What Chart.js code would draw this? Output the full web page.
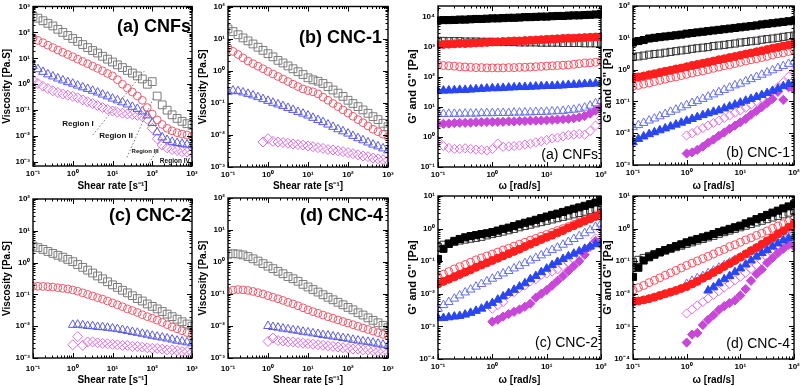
<!DOCTYPE html>
<html>
<head>
<meta charset="utf-8">
<script src="https://cdn.jsdelivr.net/npm/chart.js@4.4.0/dist/chart.umd.min.js"></script>
<style>
  body { margin: 0; background: #fff; }
  #wrap { position: relative; width: 800px; height: 386px; overflow: hidden; background: #fff; }
  #wrap canvas { position: absolute; }
</style>
</head>
<body>
<div id="wrap">
  <canvas id="visA"></canvas>
  <canvas id="visB"></canvas>
  <canvas id="visC"></canvas>
  <canvas id="visD"></canvas>
  <canvas id="gA"></canvas>
  <canvas id="gB"></canvas>
  <canvas id="gC"></canvas>
  <canvas id="gD"></canvas>
</div>
<script>
// x values
const shearRate = [0.1, 0.133, 0.178, 0.237, 0.316, 0.422, 0.562, 0.75, 1, 1.33, 1.78, 2.37, 3.16, 4.22, 5.62, 7.5, 10, 13.3, 17.8, 23.7, 31.6, 42.2, 56.2, 75, 100, 133, 178, 237, 316, 422, 562, 750, 1000];
const omega = [0.1, 0.126, 0.158, 0.2, 0.251, 0.316, 0.398, 0.501, 0.631, 0.794, 1, 1.26, 1.58, 2, 2.51, 3.16, 3.98, 5.01, 6.31, 7.94, 10, 12.6, 15.8, 20, 25.1, 31.6, 39.8, 50.1, 63.1, 79.4, 100];

// tick labels
const shearTicks = [0.1, 1, 10, 100, 1000];
const omegaTicks = [0.1, 1, 10, 100];
const viscTicks = [0.001, 0.01, 0.1, 1, 10, 100, 1000];
const gTicksA = [0.1, 1, 10, 100, 1000, 10000];
const gTicksB = [0.001, 0.01, 0.1, 1, 10, 100];
const gTicksCD = [0.0001, 0.001, 0.01, 0.1, 1, 10];

// viscosity, (a) CNFs
const visA_sq = [417, 355, 282, 224, 178, 132, 100, 76, 58, 45, 34, 26, 20, 16, 12, 9.3, 7.2, 5.6, 4.4, 3.4, 2.7, 2.1, 1.6, 1.0, 1.26, 0.35, 0.16, 0.1, 0.066, 0.048, 0.037, 0.03, 0.026];
const visA_ci = [60, 49, 40, 32, 26, 21, 17, 14, 11.5, 9.3, 7.6, 6.2, 5.0, 4.1, 3.3, 2.6, 2.1, 1.5, 1.0, 0.71, 0.5, 0.35, 0.24, 0.126, 0.071, 0.042, 0.028, 0.02, 0.016, 0.0135, 0.012, 0.011, 0.01];
const visA_tr = [5.0, 3.8, 3.0, 2.4, 2.0, 1.66, 1.41, 1.2, 1.05, 0.89, 0.76, 0.66, 0.56, 0.48, 0.4, 0.34, 0.28, 0.24, 0.2, 0.166, 0.135, 0.112, 0.089, 0.063, 0.032, 0.014, 0.0089, 0.0071, 0.006, 0.0054, 0.005, 0.0047, 0.0044];
const visA_di = [1.41, 1.07, 0.83, 0.68, 0.56, 0.48, 0.42, 0.38, 0.34, 0.3, 0.25, 0.21, 0.18, 0.15, 0.126, 0.107, 0.093, 0.083, 0.076, 0.071, 0.068, 0.063, 0.056, 0.045, 0.02, 0.0079, 0.0045, 0.0035, 0.003, 0.0028, 0.0025, 0.0024, 0.0023];

// viscosity, (b) CNC-1
const visB_sq = [20, 16.6, 13.2, 10.5, 8.5, 6.8, 5.4, 4.3, 3.4, 2.7, 2.1, 1.74, 1.41, 1.15, 0.93, 0.76, 0.6, 0.52, 0.47, 0.4, 0.32, 0.25, 0.2, 0.158, 0.12, 0.095, 0.076, 0.06, 0.047, 0.037, 0.03, 0.023, 0.018];
const visB_ci = [5.2, 4.0, 3.2, 2.5, 2.0, 1.66, 1.38, 1.15, 0.95, 0.79, 0.66, 0.55, 0.46, 0.38, 0.32, 0.27, 0.24, 0.22, 0.19, 0.15, 0.12, 0.095, 0.076, 0.06, 0.048, 0.038, 0.03, 0.024, 0.019, 0.015, 0.0126, 0.0105, 0.0087];
const visB_tr = [0.22, 0.24, 0.23, 0.21, 0.19, 0.17, 0.15, 0.13, 0.115, 0.1, 0.089, 0.079, 0.069, 0.06, 0.052, 0.046, 0.04, 0.034, 0.029, 0.025, 0.021, 0.0178, 0.015, 0.0129, 0.011, 0.0093, 0.0079, 0.0068, 0.0058, 0.005, 0.0044, 0.0038, 0.0033];
const visB_di = [0.006, 0.0076, 0.0063, 0.006, 0.0058, 0.0055, 0.0052, 0.005, 0.0048, 0.0045, 0.0043, 0.004, 0.0038, 0.0035, 0.0034, 0.0032, 0.003, 0.0028, 0.0026, 0.0024, 0.0022, 0.0021, 0.0019, 0.0018, 0.0017, 0.0016];

// viscosity, (c) CNC-2
const visC_sq = [3.3, 2.95, 2.6, 2.24, 1.95, 1.7, 1.48, 1.26, 1.07, 0.87, 0.71, 0.58, 0.47, 0.38, 0.31, 0.25, 0.2, 0.166, 0.135, 0.112, 0.091, 0.074, 0.062, 0.05, 0.042, 0.035, 0.029, 0.024, 0.02, 0.0166, 0.0138, 0.0117, 0.01];
const visC_ci = [0.18, 0.18, 0.178, 0.174, 0.17, 0.162, 0.155, 0.148, 0.138, 0.126, 0.112, 0.1, 0.089, 0.079, 0.071, 0.062, 0.054, 0.047, 0.041, 0.035, 0.031, 0.027, 0.023, 0.02, 0.0178, 0.0155, 0.0132, 0.0112, 0.0095, 0.0083, 0.0072, 0.0063, 0.0054];
const visC_tr = [0.011, 0.0112, 0.0107, 0.0102, 0.01, 0.0095, 0.0093, 0.0089, 0.0085, 0.0081, 0.0076, 0.0071, 0.0066, 0.0062, 0.0058, 0.0054, 0.005, 0.0047, 0.0044, 0.0041, 0.0038, 0.0035, 0.0033, 0.0031, 0.0029];
const visC_di = [0.0026, 0.0047, 0.0025, 0.0032, 0.0032, 0.003, 0.0029, 0.0028, 0.0027, 0.0026, 0.0025, 0.0025, 0.0023, 0.0023, 0.0022, 0.0021, 0.002, 0.002, 0.0019, 0.0018, 0.0018, 0.0017, 0.0016, 0.0016, 0.0015];

// viscosity, (d) CNC-4
const visD_sq = [1.74, 1.82, 1.78, 1.66, 1.48, 1.26, 1.07, 0.89, 0.74, 0.62, 0.51, 0.43, 0.35, 0.3, 0.25, 0.2, 0.166, 0.138, 0.115, 0.095, 0.079, 0.066, 0.055, 0.046, 0.038, 0.032, 0.026, 0.022, 0.018, 0.015, 0.0126, 0.0105, 0.0089];
const visD_ci = [0.12, 0.132, 0.138, 0.135, 0.129, 0.12, 0.11, 0.1, 0.089, 0.079, 0.071, 0.063, 0.055, 0.049, 0.043, 0.037, 0.032, 0.028, 0.025, 0.022, 0.0195, 0.0174, 0.0155, 0.0138, 0.0123, 0.011, 0.0098, 0.0087, 0.0078, 0.0069, 0.0062, 0.0055, 0.005];
const visD_tr = [0.01, 0.0093, 0.0089, 0.0083, 0.0079, 0.0074, 0.0071, 0.0066, 0.0063, 0.0059, 0.0056, 0.0052, 0.005, 0.0047, 0.0045, 0.0042, 0.004, 0.0037, 0.0035, 0.0033, 0.0032, 0.003, 0.0028, 0.0026, 0.0024];
const visD_di = [0.0033, 0.0042, 0.0035, 0.0034, 0.0032, 0.0032, 0.003, 0.0029, 0.0028, 0.0027, 0.0026, 0.0025, 0.0024, 0.0023, 0.0022, 0.0021, 0.002, 0.0019, 0.0019, 0.0018, 0.0018, 0.0017, 0.0016, 0.0016, 0.0015];

// G' (…1, filled) and G'' (…2, open), (a) CNFs
const gA_sq1 = [7600, 7800, 7800, 7900, 8100, 8100, 8300, 8500, 8500, 8700, 8900, 8900, 9100, 9300, 9300, 9500, 9800, 9800, 10000, 10200, 10200, 10500, 10700, 10700, 11000, 11200, 11200, 11500, 11700, 12000, 12600];
const gA_sq2 = [1580, 1580, 1550, 1550, 1550, 1510, 1510, 1510, 1480, 1480, 1480, 1450, 1450, 1450, 1450, 1410, 1410, 1410, 1410, 1380, 1380, 1380, 1380, 1350, 1350, 1350, 1350, 1320, 1320, 1320, 1320];
const gA_ci1 = [1170, 1200, 1230, 1260, 1290, 1290, 1320, 1350, 1380, 1410, 1450, 1480, 1510, 1550, 1580, 1580, 1620, 1660, 1700, 1740, 1780, 1820, 1860, 1910, 1950, 1950, 2000, 2040, 2090, 2140, 2190];
const gA_ci2 = [251, 240, 234, 229, 219, 214, 209, 204, 204, 200, 200, 200, 200, 204, 204, 209, 209, 214, 219, 224, 229, 234, 240, 245, 251, 263, 275, 288, 295, 309, 331];
const gA_tr1 = [34, 35, 35.5, 36, 37, 37, 38, 39, 40, 41, 42, 42, 43, 44, 45, 46, 46, 47, 48, 49, 50, 50, 51, 52, 54, 55, 56, 58, 59, 60, 63];
const gA_tr2 = [5.8, 5.8, 5.9, 5.9, 5.9, 6.0, 6.0, 6.0, 6.2, 6.2, 6.2, 6.3, 6.3, 6.3, 6.5, 6.5, 6.6, 6.6, 6.8, 6.8, 6.9, 7.1, 7.2, 7.4, 7.8, 8.1, 8.7, 9.5, 11, 13.2, 15.8];
const gA_di1 = [2.7, 2.75, 2.8, 2.9, 2.95, 2.95, 3.0, 3.1, 3.1, 3.16, 3.16, 3.2, 3.2, 3.3, 3.3, 3.4, 3.4, 3.5, 3.5, 3.55, 3.6, 3.7, 3.8, 3.9, 4.0, 4.2, 4.5, 5.0, 6.0, 7.6, 9.5];
const gA_di2 = [0.76, 0.5, 0.43, 0.4, 0.4, 0.42, 0.4, 0.38, 0.37, 0.355, 0.4, 0.6, 0.47, 0.48, 0.5, 0.52, 0.56, 0.6, 0.66, 0.72, 0.79, 0.89, 0.95, 1.05, 1.15, 1.2, 1.26, 1.2, 1.58, 2.4, 4.2];

// (b) CNC-1
const gB_sq1 = [7.1, 7.9, 8.5, 9.5, 10, 10.5, 11, 11.5, 12, 12.6, 13.5, 14.1, 14.8, 15.5, 16.2, 17, 17.8, 18.6, 19.5, 20.4, 21.4, 22.4, 23.4, 24.5, 26.3, 27.5, 28.8, 30.2, 31.6, 33.1, 34.7];
const gB_sq2 = [2.5, 2.6, 2.75, 2.95, 3.1, 3.2, 3.4, 3.6, 3.8, 4.0, 4.2, 4.5, 4.7, 4.9, 5.1, 5.5, 5.75, 6.0, 6.3, 6.6, 7.1, 7.4, 7.8, 8.1, 8.7, 9.1, 9.5, 10, 10.7, 11.2, 11.7];
const gB_ci1 = [0.54, 0.59, 0.63, 0.69, 0.74, 0.81, 0.89, 0.95, 1.05, 1.12, 1.23, 1.35, 1.45, 1.58, 1.7, 1.86, 2.04, 2.19, 2.4, 2.57, 2.82, 3.09, 3.31, 3.63, 3.89, 4.27, 4.68, 5.0, 5.5, 5.9, 6.5];
const gB_ci2 = [0.3, 0.32, 0.35, 0.38, 0.42, 0.46, 0.5, 0.55, 0.59, 0.65, 0.71, 0.78, 0.85, 0.91, 1.0, 1.1, 1.2, 1.32, 1.41, 1.55, 1.7, 1.86, 2.04, 2.19, 2.4, 2.63, 2.88, 3.16, 3.39, 3.72, 4.07];
const gB_tr1 = [0.0052, 0.0066, 0.0079, 0.0093, 0.0107, 0.0123, 0.0141, 0.0162, 0.0186, 0.0214, 0.0245, 0.028, 0.032, 0.037, 0.042, 0.047, 0.052, 0.06, 0.069, 0.079, 0.091, 0.105, 0.12, 0.138, 0.158, 0.182, 0.214, 0.25, 0.3, 0.35, 0.38];
const gB_tr2 = [0.0155, 0.018, 0.021, 0.025, 0.029, 0.034, 0.04, 0.047, 0.055, 0.065, 0.076, 0.089, 0.102, 0.12, 0.141, 0.166, 0.195, 0.23, 0.27, 0.32, 0.36, 0.43, 0.5, 0.59, 0.69, 0.81, 0.95, 1.12, 1.29, 1.51, 1.78];
const gB_di1 = [0.0023, 0.0025, 0.003, 0.0038, 0.005, 0.0063, 0.0083, 0.0105, 0.0138, 0.0174, 0.022, 0.028, 0.038, 0.05, 0.066, 0.089, 0.12, 0.2, 0.112, 0.28, 0.24];
const gB_di2 = [0.0085, 0.01, 0.012, 0.0145, 0.0174, 0.021, 0.025, 0.03, 0.036, 0.044, 0.052, 0.063, 0.079, 0.1, 0.126, 0.158, 0.21, 0.28, 0.4, 0.6, 0.89];

// (c) CNC-2
const gC_sq1 = [0.117, 0.24, 0.34, 0.42, 0.48, 0.54, 0.59, 0.63, 0.68, 0.72, 0.78, 0.87, 0.98, 1.07, 1.2, 1.35, 1.51, 1.66, 1.86, 2.09, 2.34, 2.63, 2.88, 3.24, 3.63, 4.07, 4.47, 5.0, 5.6, 6.3, 7.1];
const gC_sq2 = [0.27, 0.32, 0.35, 0.39, 0.43, 0.46, 0.49, 0.52, 0.56, 0.62, 0.68, 0.74, 0.81, 0.89, 0.98, 1.1, 1.2, 1.32, 1.45, 1.58, 1.74, 1.91, 2.09, 2.29, 2.51, 2.75, 3.02, 3.31, 3.63, 3.98, 4.37];
const gC_ci1 = [0.02, 0.024, 0.028, 0.033, 0.039, 0.046, 0.054, 0.065, 0.076, 0.089, 0.105, 0.123, 0.145, 0.17, 0.2, 0.234, 0.28, 0.33, 0.39, 0.46, 0.54, 0.63, 0.74, 0.87, 1.05, 1.23, 1.45, 1.7, 2.0, 2.34, 2.75];
const gC_ci2 = [0.033, 0.04, 0.048, 0.058, 0.068, 0.079, 0.093, 0.11, 0.126, 0.145, 0.166, 0.19, 0.22, 0.25, 0.29, 0.33, 0.38, 0.44, 0.5, 0.58, 0.66, 0.76, 0.87, 1.0, 1.15, 1.35, 1.58, 1.86, 2.19, 2.63, 3.16];
const gC_tr1 = [0.0018, 0.0018, 0.0019, 0.002, 0.0021, 0.0023, 0.0026, 0.003, 0.0035, 0.0043, 0.0052, 0.0066, 0.0083, 0.0105, 0.0132, 0.0166, 0.021, 0.028, 0.035, 0.046, 0.059, 0.076, 0.095, 0.117, 0.141, 0.17, 0.2, 0.24, 0.28, 0.33, 0.35];
const gC_tr2 = [0.0035, 0.0045, 0.0056, 0.0071, 0.0089, 0.011, 0.0135, 0.0166, 0.02, 0.024, 0.029, 0.035, 0.042, 0.05, 0.06, 0.072, 0.087, 0.105, 0.126, 0.151, 0.182, 0.22, 0.26, 0.32, 0.39, 0.48, 0.59, 0.72, 0.89, 1.12, 1.41];
const gC_di1 = [0.0014, 0.0016, 0.002, 0.0024, 0.0028, 0.0033, 0.004, 0.005, 0.0076, 0.01, 0.0129, 0.0178, 0.025, 0.035, 0.05, 0.071, 0.1, 0.158, 0.28, 0.42, 0.32];
const gC_di2 = [0.0035, 0.0045, 0.0056, 0.01, 0.0112, 0.015, 0.0178, 0.024, 0.028, 0.038, 0.042, 0.048, 0.056, 0.071, 0.089, 0.112, 0.15, 0.21, 0.28, 0.5, 0.89];

// (d) CNC-4
const gD_sq1 = [0.033, 0.063, 0.105, 0.132, 0.158, 0.186, 0.22, 0.25, 0.29, 0.33, 0.38, 0.43, 0.48, 0.54, 0.6, 0.68, 0.78, 0.87, 0.98, 1.1, 1.23, 1.45, 1.66, 1.95, 2.24, 2.63, 3.09, 3.55, 4.17, 4.79, 5.6];
const gD_sq2 = [0.093, 0.11, 0.126, 0.145, 0.166, 0.19, 0.21, 0.24, 0.27, 0.3, 0.34, 0.38, 0.43, 0.48, 0.54, 0.6, 0.69, 0.78, 0.87, 0.98, 1.1, 1.23, 1.38, 1.55, 1.74, 1.95, 2.19, 2.45, 2.75, 3.09, 3.47];
const gD_ci1 = [0.0056, 0.006, 0.0065, 0.0071, 0.0079, 0.0089, 0.01, 0.0112, 0.0126, 0.0145, 0.0166, 0.02, 0.024, 0.03, 0.036, 0.045, 0.055, 0.069, 0.085, 0.105, 0.132, 0.166, 0.21, 0.26, 0.33, 0.42, 0.52, 0.68, 0.85, 1.1, 1.38];
const gD_ci2 = [0.0129, 0.0155, 0.018, 0.022, 0.026, 0.031, 0.037, 0.044, 0.052, 0.062, 0.074, 0.087, 0.102, 0.12, 0.141, 0.166, 0.2, 0.23, 0.28, 0.32, 0.38, 0.45, 0.52, 0.62, 0.72, 0.85, 1.02, 1.2, 1.41, 1.66, 1.95];
const gD_tr1 = [0.0126, 0.0158, 0.021, 0.028, 0.035, 0.046, 0.06, 0.079, 0.105, 0.138, 0.178, 0.22, 0.28, 0.35, 0.43, 0.5, 0.56];
const gD_tr2 = [0.02, 0.025, 0.03, 0.035, 0.043, 0.051, 0.063, 0.076, 0.091, 0.11, 0.132, 0.162, 0.2, 0.25, 0.3, 0.37, 0.46, 0.56, 0.71, 0.89, 1.1];
const gD_di1 = [0.00032, 0.00056, 0.00063, 0.0011, 0.0016, 0.0022, 0.0032, 0.0042, 0.0052, 0.0063, 0.0089, 0.014, 0.025, 0.04, 0.056, 0.089, 0.126, 0.178, 0.24, 0.32, 0.28];
const gD_di2 = [0.0025, 0.0033, 0.0044, 0.0056, 0.0072, 0.0093, 0.012, 0.0155, 0.02, 0.026, 0.033, 0.044, 0.058, 0.076, 0.1, 0.132, 0.178, 0.24, 0.33, 0.47, 0.68];

// region notes in panel (a), data coordinates
const regionLabels = [
    { text: 'Region I', x: 1.35, y: 0.029, size: 8 },
    { text: 'Region II', x: 12.3, y: 0.01, size: 8 },
    { text: 'Region III', x: 66, y: 0.0026, size: 6 },
    { text: 'Region IV', x: 370, y: 0.0011, size: 6.5 }
];
const regionLines = [
    [[3.2, 0.011], [66, 3.5]],
    [[23, 0.0015], [110, 0.32]],
    [[74, 0.0007], [316, 0.02]]
];

const FAM = "Arial, 'Liberation Sans', Helvetica, sans-serif";
Chart.defaults.font.family = FAM;

const SUP = { '-': '\u207B', '0': '\u2070', '1': '\u00B9', '2': '\u00B2', '3': '\u00B3', '4': '\u2074', '5': '\u2075' };
function powLabel(v) {
    const e = Math.round(Math.log10(v));
    return '10' + String(e).split('').map(c => SUP[c]).join('');
}

function pts(xs, ys, start) {
    return ys.map((y, i) => ({ x: xs[start + i], y: y }));
}

function series(xs, ys, start, shape, r, color, filled) {
    return {
        data: pts(xs, ys, start),
        pointStyle: shape,
        pointRadius: r,
        pointBorderWidth: 1,
        borderColor: color,
        backgroundColor: filled ? color : 'rgba(0,0,0,0)',
        showLine: false,
        clip: 1
    };
}

// viscosity: open markers
const GRAY = '#7c7c7c', PINK = '#ee5a6e', BLUE = '#5a5ae6', MAG = '#da6ee0';
function viscSets(sq, ci, tr, di, trStart, diStart) {
    return [
        series(shearRate, sq, 0, 'rect', 5.5, GRAY, false),
        series(shearRate, ci, 0, 'circle', 3.9, PINK, false),
        series(shearRate, tr, trStart, 'triangle', 5, BLUE, false),
        series(shearRate, di, diStart, 'rectRot', 5, MAG, false)
    ];
}

// moduli: filled = G', open = G''
function modSets(s) {
    return [
        series(omega, s.sq1, 0, 'rect', 5, '#000000', true),
        series(omega, s.ci1, 0, 'circle', 4, '#ff1e1e', true),
        series(omega, s.tr1, s.tr1Start || 0, 'triangle', 5, '#2a46f0', true),
        series(omega, s.di1, s.diStart || 0, 'rectRot', 4.6, '#c846d8', true),
        series(omega, s.sq2, 0, 'rect', 5, '#333333', false),
        series(omega, s.ci2, 0, 'circle', 4, '#ff4d5e', false),
        series(omega, s.tr2, s.tr2Start || 0, 'triangle', 5, '#6470f0', false),
        series(omega, s.di2, s.diStart || 0, 'rectRot', 4.6, '#e070e0', false)
    ];
}

function logMarks(scale) {
    const out = [];
    const lo = Math.floor(Math.log10(scale.min)), hi = Math.ceil(Math.log10(scale.max));
    for (let e = lo; e <= hi; e++) {
        for (let m = 1; m <= 9; m++) {
            const v = m * Math.pow(10, e);
            if (v >= scale.min * 0.9999 && v <= scale.max * 1.0001) out.push([v, m === 1]);
        }
    }
    return out;
}

function decor(p) {
    return {
        id: 'decor',
        afterDatasetsDraw(chart) {
            const { ctx, chartArea: a, scales } = chart;
            const xs = scales.x, ys = scales.y;
            ctx.save();
            // region guides
            if (p.lines) {
                ctx.strokeStyle = '#777';
                ctx.lineWidth = 1;
                ctx.setLineDash([1.5, 2]);
                ctx.beginPath();
                p.lines.forEach(l => {
                    ctx.moveTo(xs.getPixelForValue(l[0][0]), ys.getPixelForValue(l[0][1]));
                    ctx.lineTo(xs.getPixelForValue(l[1][0]), ys.getPixelForValue(l[1][1]));
                });
                ctx.stroke();
                ctx.setLineDash([]);
            }
            if (p.notes) {
                ctx.fillStyle = '#111';
                ctx.textAlign = 'center';
                ctx.textBaseline = 'middle';
                p.notes.forEach(n => {
                    ctx.font = 'bold ' + n.size + 'px ' + FAM;
                    ctx.fillText(n.text, xs.getPixelForValue(n.x), ys.getPixelForValue(n.y));
                });
            }
            // inward ticks
            ctx.strokeStyle = '#000';
            ctx.lineWidth = 1;
            ctx.beginPath();
            logMarks(xs).forEach(([v, major]) => {
                const px = Math.round(xs.getPixelForValue(v)) + 0.5;
                const len = major ? 5 : 2.5;
                ctx.moveTo(px, a.bottom); ctx.lineTo(px, a.bottom - len);
                ctx.moveTo(px, a.top); ctx.lineTo(px, a.top + len);
            });
            logMarks(ys).forEach(([v, major]) => {
                const py = Math.round(ys.getPixelForValue(v)) + 0.5;
                const len = major ? 5 : 2.5;
                ctx.moveTo(a.left, py); ctx.lineTo(a.left + len, py);
                ctx.moveTo(a.right, py); ctx.lineTo(a.right - len, py);
            });
            ctx.stroke();
            ctx.lineWidth = 1.4;
            ctx.strokeRect(a.left, a.top, a.right - a.left, a.bottom - a.top);
            // panel tag
            const t = p.tag;
            ctx.font = t.font;
            ctx.fillStyle = '#000';
            ctx.textAlign = 'right';
            ctx.textBaseline = 'alphabetic';
            ctx.fillText(t.text, a.right - t.dx, t.fromTop ? a.top + t.dy : a.bottom - t.dy);
            ctx.restore();
        }
    };
}

function axis(cfg, horizontal) {
    return {
        type: 'logarithmic',
        min: cfg.min,
        max: cfg.max,
        afterBuildTicks: s => {
            s.ticks = cfg.ticks.filter(v => v >= s.min * 0.999 && v <= s.max * 1.001).map(v => ({ value: v }));
        },
        afterFit: s => {
            if (horizontal) { s.height = cfg.size; s.paddingLeft = 0; s.paddingRight = 0; }
            else { s.width = cfg.size; s.paddingTop = 0; s.paddingBottom = 0; }
        },
        grid: { display: false, drawTicks: false },
        border: { display: false },
        ticks: {
            callback: powLabel,
            color: '#000',
            font: { family: FAM, size: 8, weight: 'bold' },
            padding: cfg.tickPad,
            maxRotation: 0,
            autoSkip: false
        },
        title: {
            display: true,
            text: cfg.title,
            color: '#000',
            font: { family: FAM, size: cfg.titleSize, weight: 'bold' },
            padding: { top: cfg.titlePad, bottom: 0 }
        }
    };
}

function makePanel(p) {
    const cv = document.getElementById(p.id);
    cv.width = p.w;
    cv.height = p.h;
    cv.style.left = p.left + 'px';
    cv.style.top = p.top + 'px';
    new Chart(cv, {
        type: 'scatter',
        data: { datasets: p.sets },
        options: {
            responsive: false,
            animation: false,
            events: [],
            layout: { padding: { top: p.padTop, right: p.padRight, left: 0, bottom: 0 } },
            plugins: { legend: { display: false }, tooltip: { enabled: false } },
            scales: { x: axis(p.x, true), y: axis(p.y, false) }
        },
        plugins: [decor(p)]
    });
}

const VX = (size, tickPad) => ({ min: 0.1, max: 1000, ticks: shearTicks, title: 'Shear rate [s\u207B\u00B9]', size: size, tickPad: tickPad, titleSize: 10, titlePad: 0 });
const VY = (min, max) => ({ min: min, max: max, ticks: viscTicks, title: 'Viscosity [Pa.S]', size: 33, tickPad: 3, titleSize: 10, titlePad: 1 });
const GX = (size) => ({ min: 0.1, max: 100, ticks: omegaTicks, title: '\u03C9 [rad/s]', size: size, tickPad: 3, titleSize: 10, titlePad: 0 });
const GY = (min, max, ticks) => ({ min: min, max: max, ticks: ticks, title: "G' and G'' [Pa]", size: 33, tickPad: 3, titleSize: 11, titlePad: 1 });
const bigTag = 'bold 18px ' + FAM;
const smallTag = '14px ' + FAM;

makePanel({
    id: 'visA', left: 0, top: 0, w: 200, h: 192, padTop: 6, padRight: 8,
    x: VX(26, 3), y: VY(0.0007, 1000),
    sets: viscSets(visA_sq, visA_ci, visA_tr, visA_di, 0, 0),
    tag: { text: '(a) CNFs', font: bigTag, dx: 1, dy: 25, fromTop: true },
    notes: regionLabels, lines: regionLines
});
makePanel({
    id: 'visB', left: 196, top: 0, w: 204, h: 192, padTop: 5, padRight: 12,
    x: VX(25, 3), y: Object.assign(VY(0.001, 100), { size: 32 }),
    sets: viscSets(visB_sq, visB_ci, visB_tr, visB_di, 0, 7),
    tag: { text: '(b) CNC-1', font: bigTag, dx: 6, dy: 36, fromTop: true }
});
makePanel({
    id: 'visC', left: 0, top: 190, w: 200, h: 196, padTop: 9, padRight: 8,
    x: VX(28, 6), y: VY(0.001, 100),
    sets: viscSets(visC_sq, visC_ci, visC_tr, visC_di, 8, 8),
    tag: { text: '(c) CNC-2', font: bigTag, dx: 1, dy: 22, fromTop: true }
});
makePanel({
    id: 'visD', left: 196, top: 190, w: 204, h: 196, padTop: 8, padRight: 12,
    x: VX(28, 6), y: Object.assign(VY(0.001, 100), { size: 32 }),
    sets: viscSets(visD_sq, visD_ci, visD_tr, visD_di, 8, 8),
    tag: { text: '(d) CNC-4', font: bigTag, dx: 5, dy: 23, fromTop: true }
});
makePanel({
    id: 'gA', left: 405, top: 0, w: 207, h: 192, padTop: 4, padRight: 11,
    x: GX(25), y: GY(0.1, 23000, gTicksA),
    sets: modSets({ sq1: gA_sq1, sq2: gA_sq2, ci1: gA_ci1, ci2: gA_ci2, tr1: gA_tr1, tr2: gA_tr2, di1: gA_di1, di2: gA_di2 }),
    tag: { text: '(a) CNFs', font: smallTag, dx: 3, dy: 8, fromTop: false }
});
makePanel({
    id: 'gB', left: 600, top: 0, w: 200, h: 192, padTop: 5, padRight: 3,
    x: GX(27), y: GY(0.001, 100, gTicksB),
    sets: modSets({ sq1: gB_sq1, sq2: gB_sq2, ci1: gB_ci1, ci2: gB_ci2, tr1: gB_tr1, tr2: gB_tr2, di1: gB_di1, di2: gB_di2, diStart: 10 }),
    tag: { text: '(b) CNC-1', font: smallTag, dx: 4, dy: 8, fromTop: false }
});
makePanel({
    id: 'gC', left: 405, top: 190, w: 207, h: 196, padTop: 5, padRight: 11,
    x: GX(27), y: GY(0.0001, 10, gTicksCD),
    sets: modSets({ sq1: gC_sq1, sq2: gC_sq2, ci1: gC_ci1, ci2: gC_ci2, tr1: gC_tr1, tr2: gC_tr2, di1: gC_di1, di2: gC_di2, diStart: 10 }),
    tag: { text: '(c) CNC-2', font: smallTag, dx: 3, dy: 12, fromTop: false }
});
makePanel({
    id: 'gD', left: 600, top: 190, w: 200, h: 196, padTop: 4, padRight: 3,
    x: GX(27), y: GY(0.0001, 10, gTicksCD),
    sets: modSets({ sq1: gD_sq1, sq2: gD_sq2, ci1: gD_ci1, ci2: gD_ci2, tr1: gD_tr1, tr2: gD_tr2, di1: gD_di1, di2: gD_di2, tr1Start: 14, tr2Start: 10, diStart: 10 }),
    tag: { text: '(d) CNC-4', font: smallTag, dx: 4, dy: 11, fromTop: false }
});
</script>
</body>
</html>
